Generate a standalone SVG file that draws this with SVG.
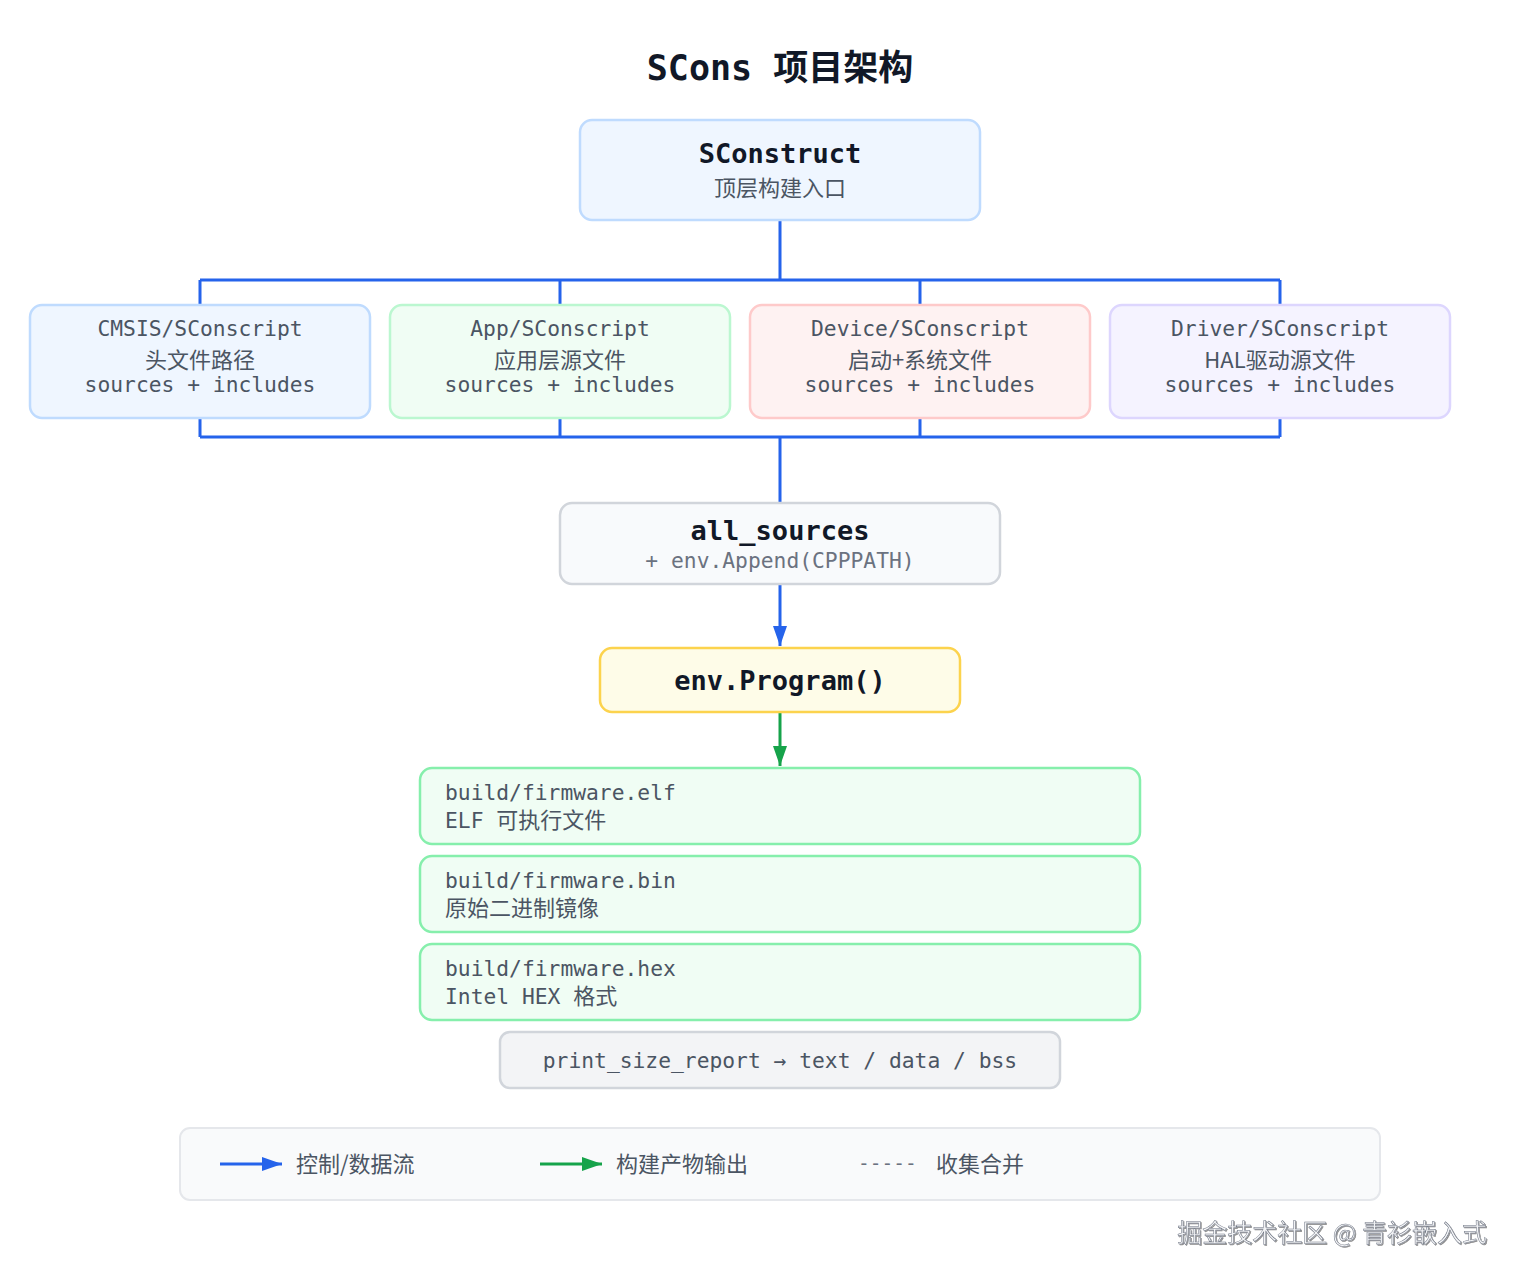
<svg xmlns="http://www.w3.org/2000/svg" width="1520" height="1280" viewBox="0 0 1520 1280">
<defs>
<style>
.mono{font-family:"DejaVu Sans Mono","Liberation Mono","Noto Sans CJK SC",monospace;}
.cjk{font-family:"Noto Sans CJK SC","Noto Sans",sans-serif;}
.box{stroke-width:2.5;}
.sub{font-size:21.3px;fill:#4b5563;}
.cj{font-size:22px;fill:#4b5563;}
.title{font-size:27px;font-weight:bold;fill:#111827;}
.link{fill:none;stroke:#2563eb;stroke-width:3;}
.glink{fill:none;stroke:#16a34a;stroke-width:3;}
</style>
<marker id="abl" markerWidth="20" markerHeight="14" refX="20" refY="7" orient="auto" markerUnits="userSpaceOnUse"><path d="M0,0 L20,7 L0,14 z" fill="#2563eb"/></marker>
<marker id="agl" markerWidth="20" markerHeight="14" refX="20" refY="7" orient="auto" markerUnits="userSpaceOnUse"><path d="M0,0 L20,7 L0,14 z" fill="#16a34a"/></marker>
<filter id="sh"><feDropShadow dx="1" dy="1" stdDeviation="0.6" flood-color="#000" flood-opacity="0.45"/></filter>
</defs>
<rect width="1520" height="1280" fill="#ffffff"/>
<text x="780" y="80" text-anchor="middle" font-size="35" font-weight="bold" fill="#111827"><tspan class="mono">SCons </tspan><tspan class="cjk">项目架构</tspan></text>

<g id="connectors">
<path class="link" d="M780,220 V280 M200,280 H1280 M200,280 V305 M560,280 V305 M920,280 V305 M1280,280 V305"/>
<path class="link" d="M200,418 V437 M560,418 V437 M920,418 V437 M1280,418 V437 M200,437 H1280 M780,437 V503"/>
<path class="link" d="M780,584 V646" marker-end="url(#abl)"/>
<path class="glink" d="M780,712 V766" marker-end="url(#agl)"/>
</g>

<g id="sconstruct">
<rect class="box" x="580" y="120" width="400" height="100" rx="12" fill="#eff6ff" stroke="#bfdbfe"/>
<text class="mono title" x="780" y="163" text-anchor="middle">SConstruct</text>
<text class="cjk cj" x="780" y="196" text-anchor="middle">顶层构建入口</text>
</g>

<g id="cmsis">
<rect class="box" x="30" y="305" width="340" height="113" rx="12" fill="#eff6ff" stroke="#bfdbfe"/>
<text class="mono sub" x="200" y="336" text-anchor="middle">CMSIS/SConscript</text>
<text class="cjk cj" x="200" y="368" text-anchor="middle">头文件路径</text>
<text class="mono sub" x="200" y="392" text-anchor="middle">sources + includes</text>
</g>
<g id="app">
<rect class="box" x="390" y="305" width="340" height="113" rx="12" fill="#f0fdf4" stroke="#bbf7d0"/>
<text class="mono sub" x="560" y="336" text-anchor="middle">App/SConscript</text>
<text class="cjk cj" x="560" y="368" text-anchor="middle">应用层源文件</text>
<text class="mono sub" x="560" y="392" text-anchor="middle">sources + includes</text>
</g>
<g id="device">
<rect class="box" x="750" y="305" width="340" height="113" rx="12" fill="#fef2f2" stroke="#fecaca"/>
<text class="mono sub" x="920" y="336" text-anchor="middle">Device/SConscript</text>
<text class="cjk cj" x="920" y="368" text-anchor="middle">启动+系统文件</text>
<text class="mono sub" x="920" y="392" text-anchor="middle">sources + includes</text>
</g>
<g id="driver">
<rect class="box" x="1110" y="305" width="340" height="113" rx="12" fill="#f5f3ff" stroke="#ddd6fe"/>
<text class="mono sub" x="1280" y="336" text-anchor="middle">Driver/SConscript</text>
<text class="cjk cj" x="1280" y="368" text-anchor="middle">HAL驱动源文件</text>
<text class="mono sub" x="1280" y="392" text-anchor="middle">sources + includes</text>
</g>

<g id="all_sources">
<rect class="box" x="560" y="503" width="440" height="81" rx="12" fill="#f8fafc" stroke="#d1d5db"/>
<text class="mono title" x="780" y="540" text-anchor="middle">all_sources</text>
<text class="mono" x="780" y="568" text-anchor="middle" font-size="21.3" fill="#6b7280">+ env.Append(CPPPATH)</text>
</g>

<g id="program">
<rect class="box" x="600" y="648" width="360" height="64" rx="12" fill="#fefce8" stroke="#fcd34d"/>
<text class="mono title" x="780" y="690" text-anchor="middle">env.Program()</text>
</g>

<g id="elf">
<rect class="box" x="420" y="768" width="720" height="76" rx="12" fill="#f0fdf4" stroke="#86efac"/>
<text class="mono sub" x="445" y="800">build/firmware.elf</text>
<text class="sub" x="445" y="828"><tspan class="mono">ELF </tspan><tspan class="cjk" font-size="22">可执行文件</tspan></text>
</g>
<g id="bin">
<rect class="box" x="420" y="856" width="720" height="76" rx="12" fill="#f0fdf4" stroke="#86efac"/>
<text class="mono sub" x="445" y="888">build/firmware.bin</text>
<text class="cjk cj" x="445" y="916">原始二进制镜像</text>
</g>
<g id="hex">
<rect class="box" x="420" y="944" width="720" height="76" rx="12" fill="#f0fdf4" stroke="#86efac"/>
<text class="mono sub" x="445" y="976">build/firmware.hex</text>
<text class="sub" x="445" y="1004"><tspan class="mono">Intel HEX </tspan><tspan class="cjk" font-size="22">格式</tspan></text>
</g>

<g id="size_report">
<rect class="box" x="500" y="1032" width="560" height="56" rx="10" fill="#f3f4f6" stroke="#d1d5db"/>
<text class="mono sub" x="780" y="1068" text-anchor="middle">print_size_report → text / data / bss</text>
</g>

<g id="legend">
<rect x="180" y="1128" width="1200" height="72" rx="10" fill="#f9fafb" stroke="#e5e7eb" stroke-width="2"/>
<line x1="220" y1="1164" x2="282" y2="1164" stroke="#2563eb" stroke-width="3" marker-end="url(#abl)"/>
<text class="cjk cj" x="296" y="1172">控制/数据流</text>
<line x1="540" y1="1164" x2="602" y2="1164" stroke="#16a34a" stroke-width="3" marker-end="url(#agl)"/>
<text class="cjk cj" x="616" y="1172">构建产物输出</text>
<text class="mono" x="858" y="1170" font-size="19.5" fill="#6b7280">-----</text>
<text class="cjk cj" x="936" y="1172">收集合并</text>
</g>

<text class="cjk" x="1487" y="1242" text-anchor="end" font-size="25" fill="#f3f4f6" stroke="#6b7280" stroke-width="0.5" filter="url(#sh)">掘金技术社区 @ 青衫嵌入式</text>
</svg>
